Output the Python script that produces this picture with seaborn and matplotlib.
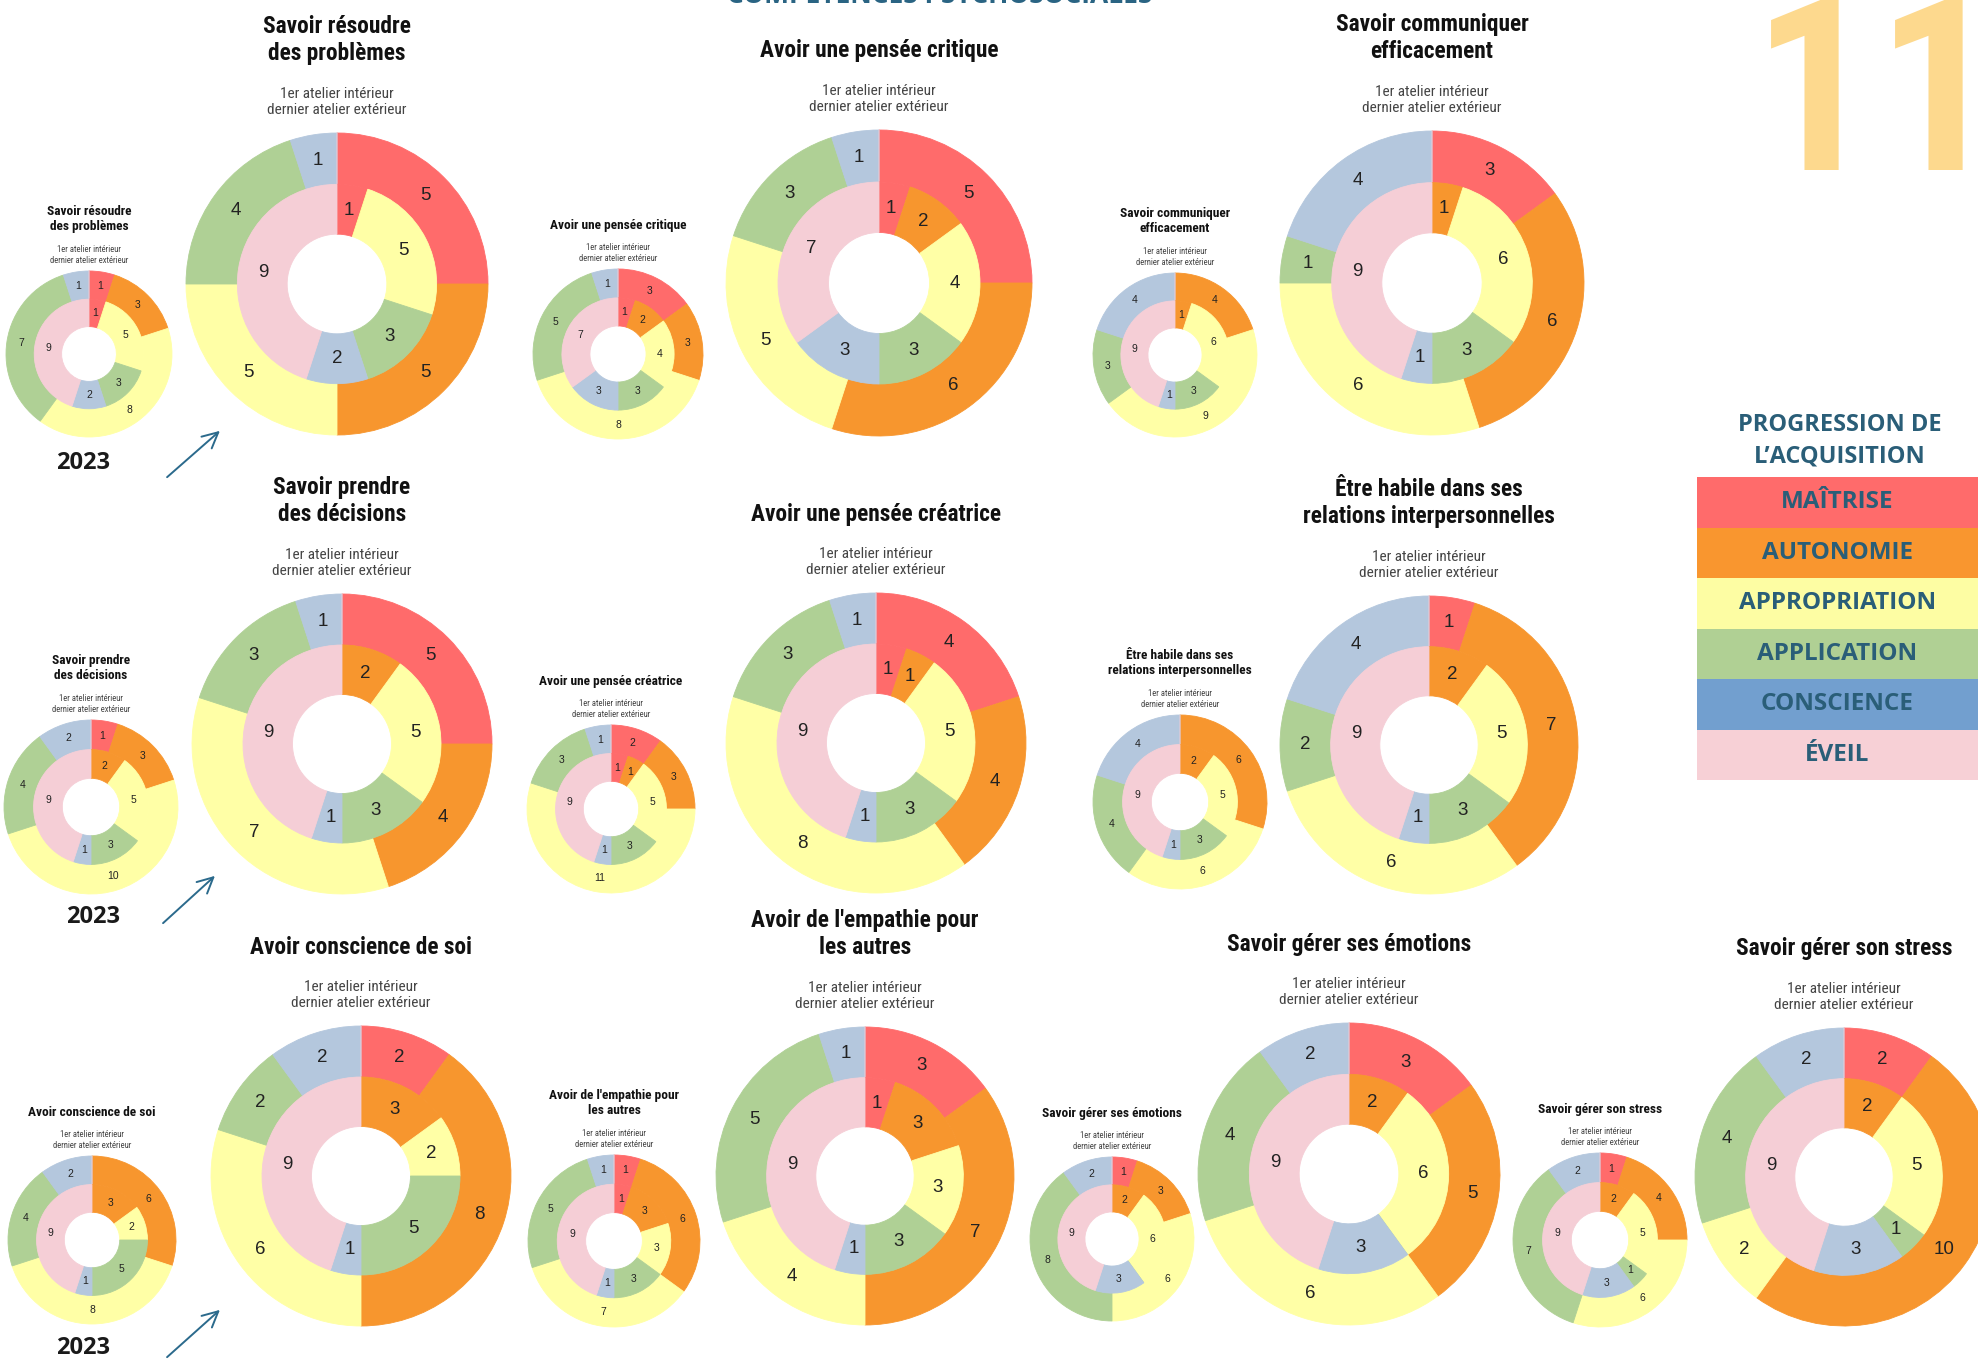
import matplotlib
matplotlib.use("Agg")
import matplotlib.pyplot as plt
import seaborn as sns
import numpy as np
import pandas as pd
from matplotlib import font_manager

# ---------------- data ----------------
levels = ["MAÎTRISE", "AUTONOMIE", "APPROPRIATION", "APPLICATION", "CONSCIENCE", "ÉVEIL"]

skills = [
    "Savoir résoudre\ndes problèmes",
    "Avoir une pensée critique",
    "Savoir communiquer\nefficacement",
    "Savoir prendre\ndes décisions",
    "Avoir une pensée créatrice",
    "Être habile dans ses\nrelations interpersonnelles",
    "Avoir conscience de soi",
    "Avoir de l'empathie pour\nles autres",
    "Savoir gérer ses émotions",
    "Savoir gérer son stress",
]

# counts per level (Maîtrise, Autonomie, Appropriation, Application, Conscience, Éveil)
first_workshop = [          # inner ring ("1er atelier")
    [1, 0, 5, 3, 2, 9],
    [1, 2, 4, 3, 3, 7],
    [0, 1, 6, 3, 1, 9],
    [0, 2, 5, 3, 1, 9],
    [1, 1, 5, 3, 1, 9],
    [0, 2, 5, 3, 1, 9],
    [0, 3, 2, 5, 1, 9],
    [1, 3, 3, 3, 1, 9],
    [0, 2, 6, 0, 3, 9],
    [0, 2, 5, 1, 3, 9],
]
last_workshop_2023 = [      # outer ring, small charts (2023)
    [1, 3, 8, 7, 1, 0],
    [3, 3, 8, 5, 1, 0],
    [0, 4, 9, 3, 4, 0],
    [1, 3, 10, 4, 2, 0],
    [2, 3, 11, 3, 1, 0],
    [0, 6, 6, 4, 4, 0],
    [0, 6, 8, 4, 2, 0],
    [1, 6, 7, 5, 1, 0],
    [1, 3, 6, 8, 2, 0],
    [1, 4, 6, 7, 2, 0],
]
last_workshop_now = [       # outer ring, large charts
    [5, 5, 5, 4, 1, 0],
    [5, 6, 5, 3, 1, 0],
    [3, 6, 6, 1, 4, 0],
    [5, 4, 7, 3, 1, 0],
    [4, 4, 8, 3, 1, 0],
    [1, 7, 6, 2, 4, 0],
    [2, 8, 6, 2, 2, 0],
    [3, 7, 4, 5, 1, 0],
    [3, 5, 6, 4, 2, 0],
    [2, 10, 2, 4, 2, 0],
]
year_label = "2023"
subtitle = "1er atelier intérieur\ndernier atelier extérieur"
page_title = "COMPÉTENCES PSYCHOSOCIALES"
page_number = "11"
legend_title = "PROGRESSION DE\nL’ACQUISITION"

# ---------------- styles / layout ----------------
ring_colors = ["#FF6B6B", "#F7962E", "#FFFFA6", "#AFD095", "#B4C7DD", "#F5CED6"]
legend_colors = ["#FF6B6B", "#F9962F", "#FDFDA3", "#B0D094", "#729FCF", "#F7D0D6"]
TEAL = "#2A5E78"

W, H = 1978, 1360
small_pos = [(89, 354, 83), (618, 354, 85), (1175, 355, 82),
             (91, 807, 87), (611, 809, 84), (1180, 802, 87),
             (92, 1240, 84), (614, 1241, 86), (1112, 1239, 82), (1600, 1240, 87)]
large_pos = [(337, 284, 151), (879, 283, 153), (1432, 283, 152),
             (342, 744, 150), (876, 743, 150), (1429, 745, 149),
             (361, 1176, 150), (865, 1176, 149), (1349, 1174, 151), (1844, 1177, 149)]
year_pos = [(83, 463), (93, 917), (83, 1348)]
arrow_pos = [((165, 479), (222, 429)), ((161, 925), (217, 874)), ((165, 1359), (222, 1308))]

sns.set_theme(style="white")
avail = {f.name for f in font_manager.fontManager.ttflist}


def pick(*names):
    for n in names:
        if n in avail:
            return n
    return "DejaVu Sans"


COND = pick("Liberation Sans Narrow", "Roboto Condensed", "Liberation Sans")
NUM = pick("Liberation Sans", "Arial", "DejaVu Sans")
BOLD = pick("Open Sans", "Lato", "Noto Sans")
plt.rcParams["font.family"] = [COND, "DejaVu Sans"]

fig = plt.figure(figsize=(W / 100, H / 100), dpi=100)
fig.patch.set_facecolor("white")
canvas = fig.add_axes([0, 0, 1, 1])
canvas.set_xlim(0, W)
canvas.set_ylim(H, 0)
canvas.axis("off")


def donut(cx, cy, r, inner, outer, fs):
    ax = fig.add_axes([(cx - r) / W, 1 - (cy + r) / H, 2 * r / W, 2 * r / H])
    for vals, rad, width, pdist in [(outer, 1.0, 0.34, 0.83), (inner, 0.66, 0.33, 0.75)]:
        tot = sum(vals)
        wedges, _, autos = ax.pie(
            vals, radius=rad, colors=ring_colors, startangle=90, counterclock=False,
            autopct=lambda p, t=tot: f"{p * t / 100:.0f}" if p > 0.01 else "",
            pctdistance=pdist, wedgeprops=dict(width=width, linewidth=0.6),
            textprops=dict(fontsize=fs, color="#222222", family=[NUM, "DejaVu Sans"]))
        for w in wedges:
            w.set_edgecolor(w.get_facecolor())
    ax.set_xlim(-1, 1)
    ax.set_ylim(-1, 1)
    ax.set_aspect("equal")
    ax.axis("off")


for i, name in enumerate(skills):
    nl = name.count("\n") + 1
    # small (2023)
    cx, cy, r = small_pos[i]
    donut(cx, cy, r, first_workshop[i], last_workshop_2023[i], 7.5)
    top = cy - r
    canvas.text(cx, top - 44 - (nl - 1) * 8, name, ha="center", va="center",
                fontsize=9.6, fontweight="bold", color="#111111", linespacing=1.25)
    canvas.text(cx, top - 16, subtitle, ha="center", va="center",
                fontsize=6.2, color="#444444", linespacing=1.2)
    # large
    cx, cy, r = large_pos[i]
    donut(cx, cy, r, first_workshop[i], last_workshop_now[i], 13.5)
    top = cy - r
    canvas.text(cx, top - 79 - (nl - 1) * 14, name, ha="center", va="center",
                fontsize=16.8, fontweight="bold", color="#111111", linespacing=1.2)
    canvas.text(cx, top - 31, subtitle, ha="center", va="center",
                fontsize=11, color="#444444", linespacing=1.2)

for (x, y) in year_pos:
    canvas.text(x, y, year_label, ha="center", va="center", fontsize=17,
                fontweight="bold", color="#1A1A1A", family=[BOLD, "DejaVu Sans"])
for (p0, p1) in arrow_pos:
    canvas.annotate("", xy=p1, xytext=p0,
                    arrowprops=dict(arrowstyle="->", color="#2B6A8C", lw=1.4, mutation_scale=28))

canvas.text(940, 3, page_title, ha="center", va="baseline", fontsize=19,
            fontweight="bold", color="#2A6483", family=[BOLD, "DejaVu Sans"])
canvas.text(2002, 170, page_number, ha="right", va="baseline", fontsize=178,
            fontweight="bold", color="#FDD98E", family=[COND, "DejaVu Sans"])
canvas.text(1840, 441, legend_title, ha="center", va="center", fontsize=17,
            fontweight="bold", color=TEAL, linespacing=1.4, family=[BOLD, "DejaVu Sans"])

# legend as seaborn bar strip
lax = fig.add_axes([1697 / W, 1 - 780 / H, (W - 1697) / W, 303 / H])
leg_df = pd.DataFrame({"level": levels, "v": [1] * len(levels)})
sns.barplot(data=leg_df, x="v", y="level", hue="level", palette=legend_colors,
            width=1.0, orient="h", ax=lax, legend=False, linewidth=0, saturation=1)
lax.set_xlim(0, 1)
lax.set_ylim(len(levels) - 0.5, -0.5)
lax.axis("off")
for j, lev in enumerate(levels):
    lax.text(0.5, j, lev, ha="center", va="center", fontsize=17.5, fontweight="bold",
             color=TEAL, family=[BOLD, "DejaVu Sans"])

fig.savefig("out.png", dpi=100, facecolor="white")
